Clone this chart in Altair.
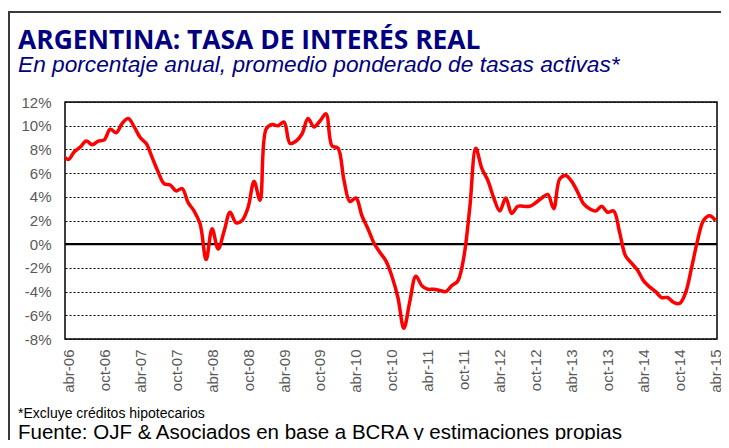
import altair as alt
import pandas as pd

# month index: 0 = abr-06 (April 2006), -1 = mar-06, 108 = abr-15
month_index = list(range(-1, 109))
rate = [
    7.6,
    7.15, 7.8, 8.2, 8.7, 8.4, 8.7, 8.8, 9.7, 9.4, 10.2, 10.6, 9.9,
    9.0, 8.5, 7.3, 6.1, 5.1, 5.0, 4.5, 4.7, 3.5, 2.8, 1.7, -1.3,
    1.3, -0.4, 1.1, 2.7, 1.8, 2.0, 3.1, 5.3, 3.7, 9.7, 10.1, 10.0,
    10.3, 8.5, 8.7, 9.3, 10.6, 9.9, 10.4, 11.0, 8.3, 8.1, 5.4, 3.6,
    3.9, 2.4, 1.3, 0.1, -0.7, -1.4, -2.7, -4.5, -7.1, -4.8, -2.7, -3.5,
    -3.8, -3.8, -3.9, -4.0, -3.5, -3.1, -1.1, 3.1, 8.1, 6.4, 5.4, 3.9,
    2.8, 3.9, 2.6, 3.2, 3.2, 3.2, 3.5, 3.9, 4.2, 3.0, 5.5, 5.8,
    5.3, 4.4, 3.4, 3.0, 2.8, 3.2, 2.7, 2.8, 1.0, -1.0, -1.6, -2.2,
    -3.1, -3.6, -4.0, -4.5, -4.5, -4.9, -5.0, -4.1, -2.0, 0.3, 2.0, 2.4,
    2.0,
]
tick_months = list(range(0, 109, 6))
y_ticks = list(range(-8, 13, 2))

title_text = "ARGENTINA: TASA DE INTERÉS REAL"
subtitle_text = "En porcentaje anual, promedio ponderado de tasas activas*"
note_text = "*Excluye créditos hipotecarios"
source_text = "Fuente: OJF & Asociados en base a BCRA y estimaciones propias"

df = pd.DataFrame({"m": month_index, "rate": rate})

W, H = 652, 237
x_scale = alt.Scale(domain=[-0.55, 108.25], nice=False, zero=False)
y_scale = alt.Scale(domain=[-8, 12], nice=False, zero=False)

yr = "(6 + floor(datum.value / 12))"
label_expr = ("(datum.value % 12 == 0 ? 'abr-' : 'oct-') + (" + yr + " < 10 ? '0' : '') + " + yr)

y_axis = alt.Axis(
    values=y_ticks, labelExpr="datum.value + '%'", grid=True,
    gridDash=[2, 2], gridColor="#000000", gridWidth=1, ticks=False,
    domain=False, labelPadding=14, labelFontSize=15, labelColor="#595959",
    labelFont="Liberation Sans", title=None, labelFlush=False)

zero = alt.Chart(pd.DataFrame({"z": [0]})).mark_rule(
    color="#000000", strokeWidth=2.2
).encode(y=alt.Y("z:Q", scale=y_scale, axis=y_axis))

line = alt.Chart(df).mark_line(
    color="#FF0000", strokeWidth=3.5, interpolate="catmull-rom", clip=True
).encode(
    x=alt.X("m:Q", scale=x_scale, axis=alt.Axis(
        values=tick_months, labelExpr=label_expr, labelAngle=270,
        grid=False, ticks=False, domain=False, labelPadding=10,
        labelFontSize=15, labelColor="#595959", labelFont="Liberation Sans",
        title=None, labelOverlap=False, labelFlush=False)),
    y=alt.Y("rate:Q", scale=y_scale, axis=y_axis),
)


def txt(s, x, y, size, font, color="#000000", weight="normal", style="normal"):
    return alt.Chart(pd.DataFrame({"t": [s]})).mark_text(
        align="left", baseline="alphabetic", font=font, fontSize=size,
        fontWeight=weight, fontStyle=style, color=color
    ).encode(x=alt.value(x), y=alt.value(y), text="t:N")


frame_df = pd.DataFrame({"a": [0]})
frame_top = alt.Chart(frame_df).mark_rule(stroke="#3a3a3a", strokeWidth=2).encode(
    x=alt.value(-56), x2=alt.value(660), y=alt.value(-90))
frame_left = alt.Chart(frame_df).mark_rule(stroke="#3a3a3a", strokeWidth=2).encode(
    x=alt.value(-56), y=alt.value(-91), y2=alt.value(500))

title = txt(title_text, -47, -53, 26.4, "Open Sans", color="#000080", weight="bold")
subtitle = txt(subtitle_text, -47, -30, 22.7, "Liberation Sans", color="#000080", style="italic")
note = txt(note_text, -47, 316, 14, "Liberation Sans")
source = txt(source_text, -47, 337, 20.5, "Liberation Sans")

chart = alt.layer(zero, line, frame_top, frame_left, title, subtitle, note, source).properties(
    width=W, height=H,
    autosize=alt.AutoSizeParams(type="none"),
    padding={"left": 57, "top": 94, "right": 4, "bottom": 101},
    background="white",
).configure_view(stroke="#000000", strokeWidth=1.5)

chart.save("out.html", embed_options={"renderer": "svg", "actions": False})
